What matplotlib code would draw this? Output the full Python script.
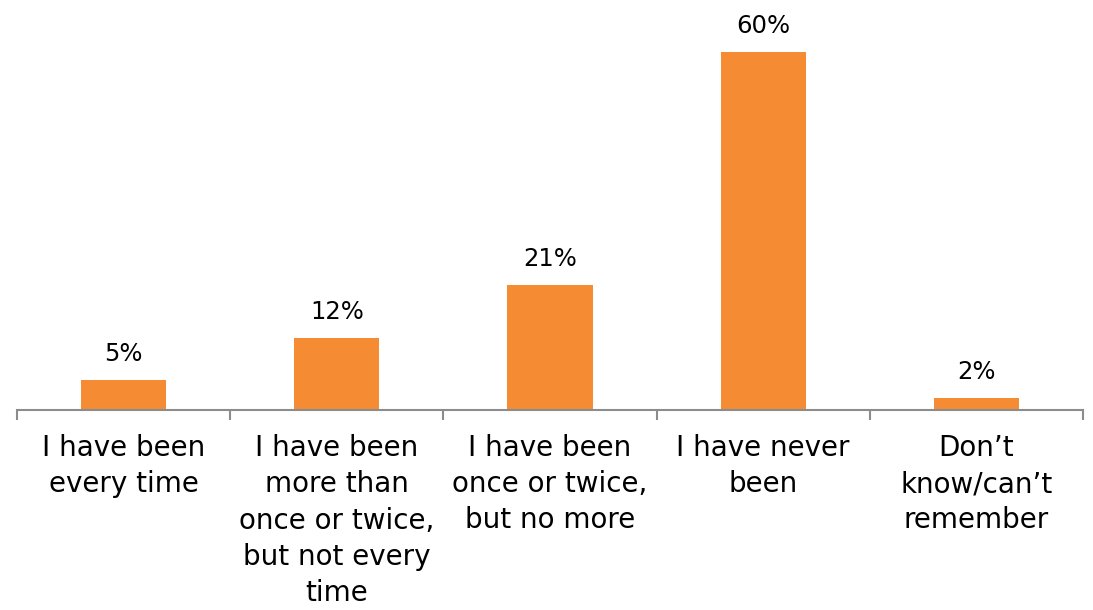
import matplotlib
matplotlib.use('Agg')
import matplotlib.pyplot as plt
import matplotlib.transforms as mtransforms

categories = ['I have been\nevery time',
              'I have been\nmore than\nonce or twice,\nbut not every\ntime',
              'I have been\nonce or twice,\nbut no more',
              'I have never\nbeen',
              'Don\u2019t\nknow/can\u2019t\nremember']
values = [5, 12, 21, 60, 2]

bar_color = '#F58C34'
axis_gray = '#8C8C8C'

fig = plt.figure(figsize=(10.93, 6.10), dpi=100)
ax = fig.add_axes([17 / 1093, 200 / 610, 1066 / 1093, 410 / 610])

x = list(range(len(values)))
ax.bar(x, values, width=0.4, color=bar_color)

ax.set_xlim(-0.5, len(values) - 0.5)
ax.set_ylim(0, 68.7)

for s in ['top', 'right', 'left']:
    ax.spines[s].set_visible(False)
ax.spines['bottom'].set_color(axis_gray)
ax.spines['bottom'].set_linewidth(1.5)
ax.set_yticks([])

# ticks sit on the category boundaries
ax.set_xticks([i - 0.5 for i in range(len(values) + 1)])
ax.set_xticklabels([])
ax.tick_params(axis='x', direction='out', length=7.5, width=1.5, color=axis_gray)

for xi, v in zip(x, values):
    ax.annotate(f'{v}%', (xi, v), xytext=(0, 10), textcoords='offset points',
                ha='center', va='bottom', fontsize=17.5, color='black')

trans = mtransforms.blended_transform_factory(ax.transData, ax.transAxes)
for xi, lab in zip(x, categories):
    ax.text(xi, -0.058, lab, transform=trans, ha='center', va='top',
            fontsize=20, linespacing=1.38, color='black')

fig.savefig('out.png', dpi=100)
